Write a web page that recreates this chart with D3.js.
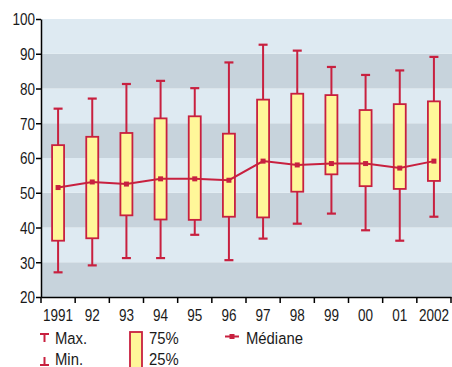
<!DOCTYPE html>
<html><head><meta charset="utf-8">
<script src="https://cdn.jsdelivr.net/npm/d3@7"></script>
<style>body{margin:0;background:#fff}svg{display:block}text{font-family:"Liberation Sans",Arial,sans-serif;fill:#1a1a1a}</style>
</head><body>
<script>
const years = ["1991","92","93","94","95","96","97","98","99","00","01","2002"];
const maxV  = [74.2, 77.1, 81.3, 82.2, 80.1, 87.5, 92.6, 90.9, 86.2, 83.9, 85.2, 89.1];
const q3V   = [63.7, 66.1, 67.2, 71.4, 72.0, 67.0, 76.8, 78.5, 78.1, 73.8, 75.5, 76.3];
const medV  = [51.5, 53.1, 52.5, 54.0, 54.0, 53.6, 59.1, 58.0, 58.4, 58.4, 57.1, 59.1];
const q1V   = [36.2, 36.9, 43.5, 42.3, 42.2, 43.1, 42.9, 50.3, 55.3, 51.9, 51.1, 53.4];
const minV  = [27.1, 29.1, 31.2, 31.2, 37.9, 30.6, 36.8, 41.1, 44.0, 39.2, 36.2, 43.1];
const yTicks = [20,30,40,50,60,70,80,90,100];

const W=452,H=367, L=41, R=451, T=19, B=297;
const red="#c8203f", fill="#fff799", light="#deeaf2", dark="#c7d3dc";
const SX=0.82, SXL=0.9, FS=16.5;
const svg=d3.select("body").append("svg").attr("width",W).attr("height",H);
const x=d3.scaleBand().domain(years).range([L,R]);
const y=d3.scaleLinear().domain([20,100]).range([B,T]);

// background bands
const bands=d3.range(20,100,10);
svg.append("g").selectAll("rect").data(bands).join("rect")
  .attr("x",L).attr("width",R-L+1)
  .attr("y",d=>y(d+10)).attr("height",d=>y(d)-y(d+10))
  .attr("fill",d=>((d-20)/10)%2===0?dark:light);

const xc=d=>x(d)+x.bandwidth()/2;
const bw=12, cap=9;
const data=years.map((yr,i)=>({yr,max:maxV[i],q3:q3V[i],med:medV[i],q1:q1V[i],min:minV[i]}));
const g=svg.append("g");
g.selectAll(".wu").data(data).join("line").attr("stroke",red).attr("stroke-width",2)
  .attr("x1",d=>xc(d.yr)).attr("x2",d=>xc(d.yr)).attr("y1",d=>y(d.max)).attr("y2",d=>y(d.q3));
g.selectAll(".wl").data(data).join("line").attr("stroke",red).attr("stroke-width",2)
  .attr("x1",d=>xc(d.yr)).attr("x2",d=>xc(d.yr)).attr("y1",d=>y(d.min)).attr("y2",d=>y(d.q1));
g.selectAll(".cu").data(data).join("line").attr("stroke",red).attr("stroke-width",2.2)
  .attr("x1",d=>xc(d.yr)-cap/2).attr("x2",d=>xc(d.yr)+cap/2).attr("y1",d=>y(d.max)).attr("y2",d=>y(d.max));
g.selectAll(".cl").data(data).join("line").attr("stroke",red).attr("stroke-width",2.2)
  .attr("x1",d=>xc(d.yr)-cap/2).attr("x2",d=>xc(d.yr)+cap/2).attr("y1",d=>y(d.min)).attr("y2",d=>y(d.min));
g.selectAll(".box").data(data).join("rect").attr("fill",fill).attr("stroke",red).attr("stroke-width",1.8)
  .attr("x",d=>xc(d.yr)-bw/2).attr("width",bw).attr("y",d=>y(d.q3)).attr("height",d=>y(d.q1)-y(d.q3));
g.append("path").datum(data).attr("fill","none").attr("stroke",red).attr("stroke-width",2)
  .attr("d",d3.line().x(d=>xc(d.yr)).y(d=>y(d.med)));
g.selectAll(".mk").data(data).join("rect").attr("fill",red)
  .attr("x",d=>xc(d.yr)-2.5).attr("y",d=>y(d.med)-2.5).attr("width",5).attr("height",5);

// axes
const ya=svg.append("g").attr("transform",`translate(${L},0)`)
  .call(d3.axisLeft(y).tickValues(yTicks).tickSize(5).tickSizeOuter(0));
ya.select(".domain").attr("stroke","#000").attr("stroke-width",1.5);
ya.selectAll(".tick line").attr("stroke","#000").attr("stroke-width",1.5);
ya.selectAll("text").attr("font-size",FS).attr("fill","#1a1a1a")
  .attr("x",-6/SX).attr("dy","0.36em").attr("transform",`scale(${SX},1)`);
const xa=svg.append("g").attr("transform",`translate(0,${B})`)
  .call(d3.axisBottom(x).tickSize(0).tickSizeOuter(0));
xa.select(".domain").attr("stroke","#000").attr("stroke-width",1.5);
xa.selectAll("text").attr("font-size",FS).attr("fill","#1a1a1a")
  .attr("y",24).attr("dy",0).attr("transform",`scale(${SX},1)`);
xa.selectAll(".bt").data(years.map(d=>x(d)).concat([R])).join("line")
  .attr("stroke","#000").attr("stroke-width",1.5).attr("x1",d=>d).attr("x2",d=>d).attr("y1",0).attr("y2",6);

// legend
const lg=svg.append("g");
const ltext=(tx,ty,s)=>lg.append("text").attr("transform",`translate(${tx},${ty}) scale(${SXL},1)`).attr("font-size",FS).text(s);
lg.append("line").attr("x1",40).attr("x2",49).attr("y1",334).attr("y2",334).attr("stroke",red).attr("stroke-width",2);
lg.append("line").attr("x1",44.5).attr("x2",44.5).attr("y1",334).attr("y2",342).attr("stroke",red).attr("stroke-width",2);
ltext(55,344,"Max.");
lg.append("line").attr("x1",40).attr("x2",49).attr("y1",365).attr("y2",365).attr("stroke",red).attr("stroke-width",2);
lg.append("line").attr("x1",44.5).attr("x2",44.5).attr("y1",357).attr("y2",365).attr("stroke",red).attr("stroke-width",2);
ltext(55,365,"Min.");
lg.append("rect").attr("x",130).attr("y",332).attr("width",12).attr("height",40).attr("fill",fill).attr("stroke",red).attr("stroke-width",1.8);
ltext(149,344,"75%");
ltext(149,365,"25%");
lg.append("line").attr("x1",225).attr("x2",239).attr("y1",336.5).attr("y2",336.5).attr("stroke",red).attr("stroke-width",2);
lg.append("rect").attr("x",229.5).attr("y",334).attr("width",5).attr("height",5).attr("fill",red);
ltext(246,344,"Médiane");
</script>
</body></html>
